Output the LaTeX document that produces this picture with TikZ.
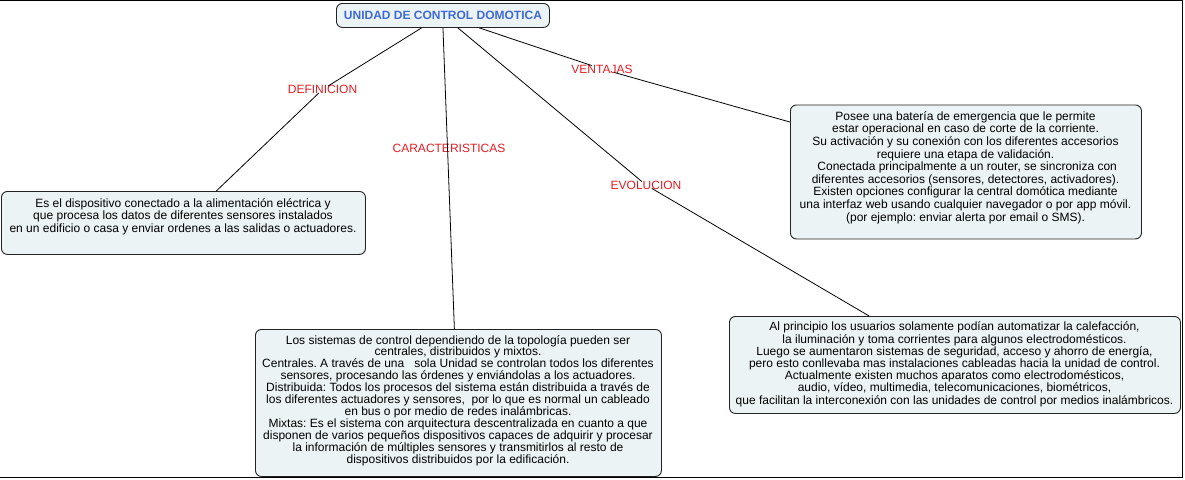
\documentclass[tikz,border=0pt]{standalone}
\usepackage{fontspec}
\setmainfont{Liberation Sans}
\usetikzlibrary{calc}
\frenchspacing
\definecolor{boxfill}{RGB}{236,243,245}
\definecolor{boxline}{RGB}{35,35,35}
\definecolor{labred}{RGB}{226,30,36}
\definecolor{rootblue}{RGB}{62,106,216}
\begin{document}
\begin{tikzpicture}[x=1pt,y=-1pt,
  box/.style={draw=boxline, fill=boxfill, rounded corners=6pt, line width=0.9pt, inner sep=0pt, anchor=north west},
  txt/.style={align=center, inner sep=0pt, anchor=base, font=\fontsize{12}{12.5}\selectfont},
  lab/.style={text=labred, inner sep=-1pt, font=\fontsize{12}{14}\selectfont},
  conn/.style={draw=black, line width=0.8pt},
  frame/.style={draw=black, line width=1.6pt}]
\useasboundingbox (0,0) rectangle (1185,479);
\draw[frame] (-3,0.6) -- (1182.4,0.6) -- (1182.4,477.6) -- (-3,477.6);

% boxes
\node[box, minimum width=213pt, minimum height=24pt, text=rootblue, font=\bfseries\fontsize{12}{14}\selectfont] (root) at (336,3) {UNIDAD DE CONTROL DOMOTICA};
\node[box, minimum width=364pt, minimum height=63pt] (defbox) at (1,191) {};
\node[box, minimum width=351pt, minimum height=134pt] (ventbox) at (790,104.5) {};
\node[box, minimum width=406pt, minimum height=147pt] (carbox) at (255,329) {};
\node[box, minimum width=451pt, minimum height=97pt] (evbox) at (729,316) {};

% texts (anchor = baseline of the last line)
\node[txt] (deftxt) at (183,232) {Es el dispositivo conectado a la alimentación eléctrica y\\
que procesa los datos de diferentes sensores instalados\\
en un edificio o casa y enviar ordenes a las salidas o actuadores.};
\node[txt, font=\fontsize{12}{12.6}\selectfont] (venttxt) at (965.5,221) {Posee una batería de emergencia que le permite\\
estar operacional en caso de corte de la corriente.\\
Su activación y su conexión con los diferentes accesorios\\
requiere una etapa de validación.\\
\ Conectada principalmente a un router, se sincroniza con\\
diferentes accesorios (sensores, detectores, activadores).\\
Existen opciones configurar la central domótica mediante\\
una interfaz web usando cualquier navegador o por app móvil.\\
(por ejemplo: enviar alerta por email o SMS).};
\node[txt, font=\fontsize{12}{11.9}\selectfont] (cartxt) at (458,463) {Los sistemas de control dependiendo de la topología pueden ser\\
centrales, distribuidos y mixtos.\\
Centrales. A través de una \ \ sola Unidad se controlan todos los diferentes\\
sensores, procesando las órdenes y enviándolas a los actuadores.\\
Distribuida: Todos los procesos del sistema están distribuida a través de\\
los diferentes actuadores y sensores, \ por lo que es normal un cableado\\
en bus o por medio de redes inalámbricas.\\
Mixtas: Es el sistema con arquitectura descentralizada en cuanto a que\\
disponen de varios pequeños dispositivos capaces de adquirir y procesar\\
la información de múltiples sensores y transmitirlos al resto de\\
dispositivos distribuidos por la edificación.};
\node[txt, font=\fontsize{12}{12.2}\selectfont] (evtxt) at (954.5,404) {Al principio los usuarios solamente podían automatizar la calefacción,\\
la iluminación y toma corrientes para algunos electrodomésticos.\\
Luego se aumentaron sistemas de seguridad, acceso y ahorro de energía,\\
pero esto conllevaba mas instalaciones cableadas hacia la unidad de control.\\
Actualmente existen muchos aparatos como electrodomésticos,\\
audio, vídeo, multimedia, telecomunicaciones, biométricos,\\
que facilitan la interconexión con las unidades de control por medios inalámbricos.};

% labels
\node[lab] (deflab) at (322.5,89.5) {DEFINICION};
\node[lab] (carlab) at (449,148) {CARACTERISTICAS};
\node[lab] (evlab) at (646,185) {EVOLUCION};
\node[lab] (ventlab) at (602,69) {VENTAJAS};

% connectors
\draw[conn] ($(root.south west)!0.40!(root.south east)$) -- (deflab);
\draw[conn] (deflab) -- ($(defbox.north west)!0.59!(defbox.north east)$);
\draw[conn] ($(root.south west)!0.50!(root.south east)$) -- ($(carbox.north west)!0.49!(carbox.north east)$);
\draw[conn] ($(root.south west)!0.57!(root.south east)$) -- (evlab);
\draw[conn] (evlab) -- ($(evbox.north west)!0.31!(evbox.north east)$);
\draw[conn] ($(root.south west)!0.67!(root.south east)$) -- (ventlab);
\draw[conn] (ventlab) -- ($(ventbox.north west)!0.13!(ventbox.south west)$);
\end{tikzpicture}
\end{document}
